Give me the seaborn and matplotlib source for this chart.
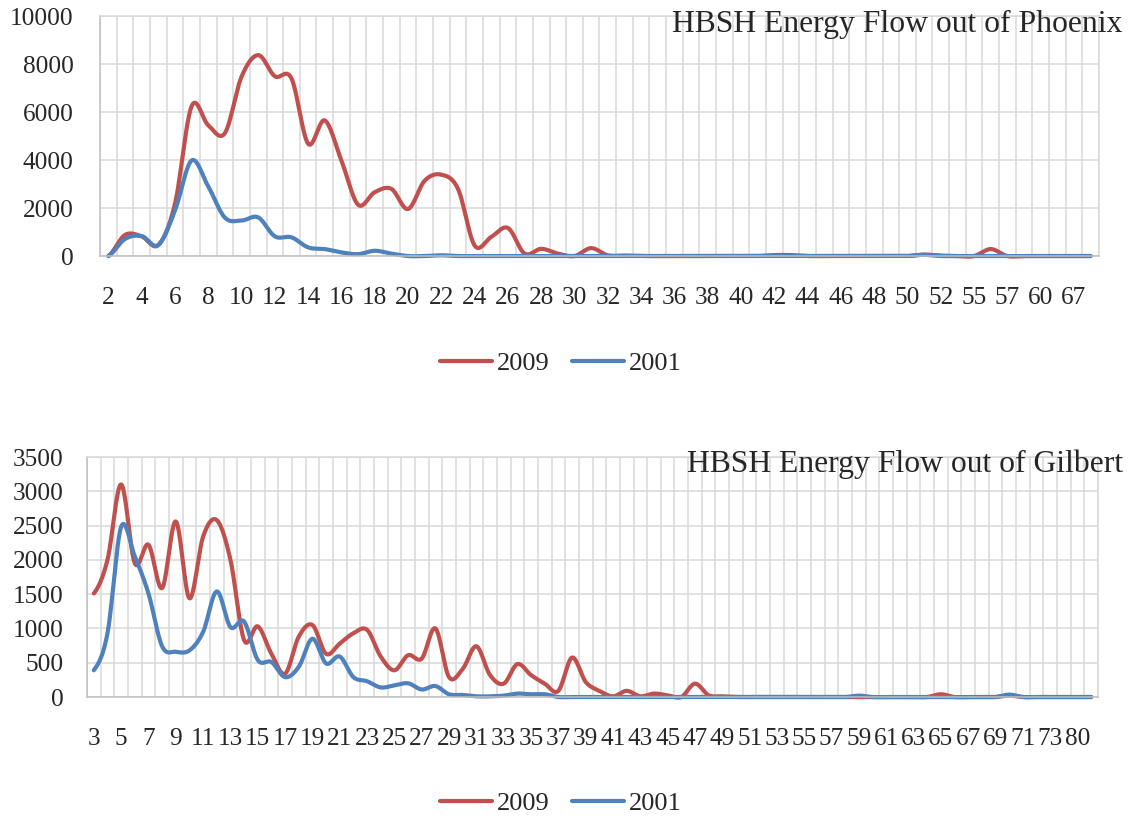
import numpy as np
import pandas as pd
import matplotlib
matplotlib.use("Agg")
import matplotlib.pyplot as plt
import seaborn as sns

# ---- data -------------------------------------------------------------
phx_zones = list(range(2, 53)) + [54, 55, 56, 57, 59, 60, 63, 67, 72]
phx_2009 = [0, 880, 820, 460, 2170, 6240, 5450, 5120, 7470, 8370,
            7490, 7400, 4680, 5650, 3980, 2140, 2660, 2800, 1960, 3140,
            3390, 2800, 440, 800, 1170, 100, 300, 100, 0, 330,
            30, 20, 0, 0, 0, 0, 0, 0, 0, 0,
            40, 40, 0, 0, 0, 0, 0, 0, 0, 60,
            20, 0, 0, 290, 0, 0, 0, 0, 0, 0]
phx_2001 = [0, 710, 830, 460, 1890, 3980, 2900, 1600, 1480, 1610,
            820, 780, 360, 290, 150, 80, 220, 100, 0, 0,
            30, 0, 0, 0, 0, 0, 0, 0, 0, 0,
            0, 0, 0, 0, 0, 0, 0, 0, 0, 0,
            0, 0, 0, 0, 0, 0, 0, 0, 0, 50,
            0, 0, 0, 0, 0, 0, 0, 0, 0, 0]

gil_zones = list(range(3, 74)) + [75, 80, 85]
gil_2009 = [1510, 2000, 3100, 1950, 2220, 1590, 2560, 1440, 2340, 2580,
            2000, 830, 1030, 630, 340, 880, 1050, 630, 780, 930,
            980, 590, 390, 610, 560, 1000, 290, 410, 740, 320,
            195, 480, 320, 195, 90, 575, 220, 90, 10, 90,
            10, 50, 25, 0, 195, 25, 10, 0, 0, 0,
            0, 0, 0, 0, 0, 0, 0, 0, 0, 0,
            0, 0, 40, 0, 0, 0, 0, 20, 0, 0,
            0, 0, 0, 0]
gil_2001 = [390, 930, 2480, 2050, 1510, 740, 660, 680, 950, 1540,
            1020, 1100, 540, 510, 290, 440, 850, 490, 590, 290,
            230, 140, 170, 200, 110, 160, 40, 30, 10, 10,
            20, 50, 40, 40, 0, 0, 0, 0, 0, 0,
            0, 0, 0, 0, 0, 0, 0, 0, 0, 0,
            0, 0, 0, 0, 0, 0, 20, 0, 0, 0,
            0, 0, 0, 0, 0, 0, 0, 35, 0, 0,
            0, 0, 0, 0]

series_labels = ["2009", "2001"]
series_colors = ["#C0504D", "#4F81BD"]

# ---- styling ----------------------------------------------------------
sns.set_theme(style="white")
plt.rcParams["font.family"] = ["Liberation Serif", "DejaVu Serif"]
TICK_FS = 18.2
LEGEND_FS = 19
TITLE_FS = 22.8
LW = 3.0
GRID = "#D9D9D9"
AXIS = "#BFBFBF"


def smooth_curve(values, steps=24):
    """Catmull-Rom style Bezier smoothing through every category value."""
    p = np.asarray(values, dtype=float)
    n = len(p)
    xs, ys = [], []
    for i in range(n - 1):
        p0 = p[i - 1] if i > 0 else p[i]
        p3 = p[i + 2] if i + 2 < n else p[i + 1]
        b0, b3 = p[i], p[i + 1]
        b1 = b0 + (b3 - p0) / 6.0
        b2 = b3 - (p3 - b0) / 6.0
        t = np.linspace(0, 1, steps, endpoint=(i == n - 2))
        y = ((1 - t) ** 3 * b0 + 3 * (1 - t) ** 2 * t * b1
             + 3 * (1 - t) * t ** 2 * b2 + t ** 3 * b3)
        xs.append(i + t)
        ys.append(y)
    return np.concatenate(xs), np.concatenate(ys)


def draw_panel(ax, zones, s2009, s2001, ymax, ystep, title, title_y,
               legend_y, ylab_pad):
    n = len(zones)
    rows = []
    for lab, vals in zip(series_labels, [s2009, s2001]):
        xs, ys = smooth_curve(vals)
        rows.append(pd.DataFrame({"pos": xs, "value": ys, "series": lab}))
    df = pd.concat(rows, ignore_index=True)
    sns.lineplot(data=df, x="pos", y="value", hue="series",
                 hue_order=series_labels, palette=series_colors,
                 linewidth=LW, ax=ax, legend=False, sort=False,
                 estimator=None)
    for ln in ax.get_lines():
        ln.set_clip_on(False)
        ln.set_solid_capstyle("round")

    ax.set_xlim(-0.5, n - 0.5)
    ax.set_ylim(0, ymax)
    ax.set_xticks(np.arange(0, n, 2))
    ax.set_xticklabels([str(zones[i]) for i in range(0, n, 2)])
    ax.set_xticks(np.arange(-0.5, n, 1.0), minor=True)
    ax.set_yticks(np.arange(0, ymax + 1, ystep))
    ax.set_yticklabels([f"{int(v)}" for v in np.arange(0, ymax + 1, ystep)])
    ax.tick_params(axis="x", which="both", length=0, pad=22,
                   labelsize=TICK_FS)
    ax.tick_params(axis="y", length=0, pad=ylab_pad, labelsize=TICK_FS)
    ax.grid(False)
    ax.grid(True, axis="x", which="minor", color=GRID, linewidth=1.1)
    ax.grid(True, axis="y", which="major", color=GRID, linewidth=1.1)
    ax.set_axisbelow(True)
    ax.set_xlabel("")
    ax.set_ylabel("")
    for side in ["top", "right"]:
        ax.spines[side].set_color(GRID)
        ax.spines[side].set_linewidth(1.1)
    for side in ["left", "bottom"]:
        ax.spines[side].set_color(AXIS)
        ax.spines[side].set_linewidth(1.1)

    fig = ax.figure
    fig.text(0.990, title_y, title, ha="right", va="baseline",
             fontsize=TITLE_FS)

    handles = [plt.Line2D([], [], color=c, linewidth=LW,
                          solid_capstyle="round") for c in series_colors]
    ax.legend(handles, series_labels, loc="center",
              bbox_to_anchor=(0.4947, legend_y),
              bbox_transform=fig.transFigure, ncol=2, frameon=False,
              fontsize=LEGEND_FS, handlelength=1.95, handletextpad=0.2,
              columnspacing=0.85)


fig = plt.figure(figsize=(11.34, 8.18), dpi=100)
ax_top = fig.add_axes([0.0882, 0.687, 0.8809, 0.2934])
ax_bot = fig.add_axes([0.0767, 0.1479, 0.8916, 0.2934])

draw_panel(ax_top, phx_zones, phx_2009, phx_2001, 10000, 2000,
           "HBSH Energy Flow out of Phoenix", 0.961, 0.5562, 19)
draw_panel(ax_bot, gil_zones, gil_2009, gil_2001, 3500, 500,
           "HBSH Energy Flow out of Gilbert", 0.423, 0.0183, 17)

fig.savefig("out.png", dpi=100)
